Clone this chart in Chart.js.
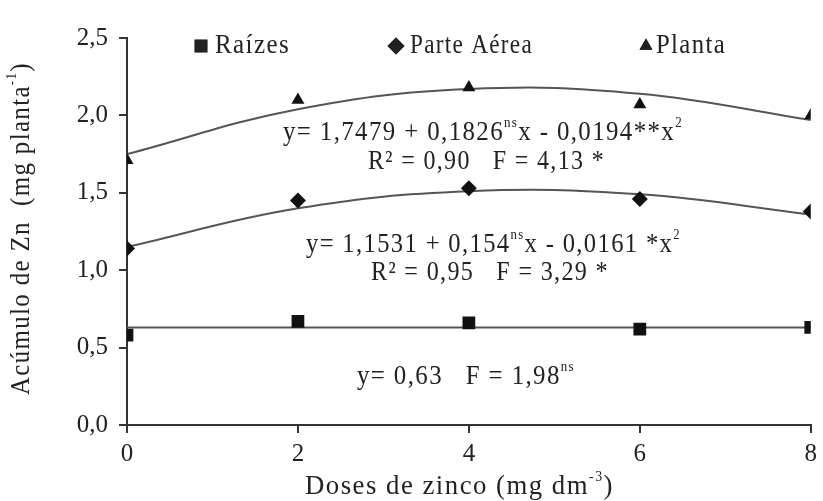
<!DOCTYPE html>
<html>
<head>
<meta charset="utf-8">
<script src="https://cdn.jsdelivr.net/npm/chart.js@4.4.1/dist/chart.umd.min.js"></script>
<style>
  html, body { margin: 0; padding: 0; background: #fff; }
  #wrap { width: 823px; height: 501px; }
</style>
</head>
<body>
<div id="wrap"><canvas id="grafico"></canvas></div>
<script>
// doses de zinco (mg dm-3)
const doses = [0, 2, 4, 6, 8];

const raizes = [0.58, 0.67, 0.66, 0.62, 0.63];
const parteAerea = [1.14, 1.45, 1.53, 1.46, 1.38];
const planta = [1.71, 2.10, 2.18, 2.07, 2.00];

// curvas ajustadas nas doses
const ajusteRaizes = [0.63, 0.63, 0.63, 0.63, 0.63];
const ajusteParte = [1.15, 1.40, 1.51, 1.49, 1.36];
const ajustePlanta = [1.75, 2.04, 2.17, 2.14, 1.97];

const yTicks = [0, 0.5, 1.0, 1.5, 2.0, 2.5];

const fonte = '"Liberation Serif", "Times New Roman", serif';
const corTexto = '#222';

const pts = (ys) => doses.map((d, i) => ({ x: d, y: ys[i] }));

// texto com partes sobrescritas [[texto, sobrescrito?], ...], ajustado entre x0 e x1
function textoAjustado(ctx, partes, x0, x1, cy, tam) {
    const fnt = (sup) => (sup ? Math.round(tam * 0.5) : tam) + 'px ' + fonte;
    ctx.save();
    ctx.letterSpacing = '1.5px';
    let largura = 0;
    partes.forEach(p => {
        ctx.font = fnt(p[1]);
        largura += ctx.measureText(p[0]).width;
    });
    ctx.translate(x0, cy);
    ctx.scale((x1 - x0) / largura, 1);
    let x = 0;
    partes.forEach(p => {
        ctx.font = fnt(p[1]);
        ctx.fillText(p[0], x, p[1] ? -tam * 0.35 : 0);
        x += ctx.measureText(p[0]).width;
    });
    ctx.restore();
}

const anotacoes = {
    id: 'anotacoes',
    afterDraw(chart) {
        const ctx = chart.ctx;
        ctx.save();
        ctx.fillStyle = corTexto;
        ctx.textBaseline = 'middle';
        ctx.textAlign = 'left';
        const t = 27;

        // legenda
        const leg = [
            { mx: 201, x0: 215, x1: 290, nome: 'Raízes', forma: 'rect', r: 9 },
            { mx: 396, x0: 410, x1: 533, nome: 'Parte Aérea', forma: 'rectRot', r: 8.5 },
            { mx: 646, x0: 656, x1: 726, nome: 'Planta', forma: 'triangle', r: 7.5 }
        ];
        leg.forEach(l => {
            ctx.beginPath();
            Chart.helpers.drawPoint(ctx, { pointStyle: l.forma, radius: l.r, rotation: 0, borderWidth: 0 }, l.mx, 46);
            ctx.fill();
            textoAjustado(ctx, [[l.nome, false]], l.x0, l.x1, 46, t);
        });

        // equações
        textoAjustado(ctx, [['y= 1,7479 + 0,1826', false], ['ns', true], ['x - 0,0194**x', false], ['2', true]], 283, 683, 133, t);
        textoAjustado(ctx, [['R² = 0,90   F = 4,13 *', false]], 368, 605, 162, t);
        textoAjustado(ctx, [['y= 1,1531 + 0,154', false], ['ns', true], ['x - 0,0161 *x', false], ['2', true]], 306, 681, 245, t);
        textoAjustado(ctx, [['R² = 0,95   F = 3,29 *', false]], 371, 609, 273, t);
        textoAjustado(ctx, [['y= 0,63   F = 1,98', false], ['ns', true]], 357, 575, 377, t);

        // títulos dos eixos
        textoAjustado(ctx, [['Doses de zinco (mg dm', false], ['-3', true], [')', false]], 305, 614, 487, t);
        ctx.translate(22, 0);
        ctx.rotate(-Math.PI / 2);
        textoAjustado(ctx, [['Acúmulo de Zn  (mg planta', false], ['-1', true], [')', false]], -395, -62, 0, t);
        ctx.restore();
    }
};

const linhaAjuste = (ys) => ({
    type: 'line',
    data: pts(ys),
    borderColor: '#555',
    borderWidth: 2,
    pointRadius: 0,
    tension: 0.4,
    fill: false,
    order: 2
});

const marcadores = (ys, forma, raio) => ({
    type: 'scatter',
    data: pts(ys),
    pointStyle: forma,
    pointRadius: raio,
    pointBackgroundColor: '#111',
    pointBorderColor: '#111',
    pointBorderWidth: 0,
    showLine: false,
    order: 1
});

new Chart(document.getElementById('grafico'), {
    data: {
        datasets: [
            linhaAjuste(ajusteRaizes),
            linhaAjuste(ajusteParte),
            linhaAjuste(ajustePlanta),
            Object.assign(marcadores(raizes, 'rect', 9), { label: 'Raízes' }),
            Object.assign(marcadores(parteAerea, 'rectRot', 8), { label: 'Parte Aérea' }),
            Object.assign(marcadores(planta, 'triangle', 7.5), { label: 'Planta' })
        ]
    },
    options: {
        responsive: true,
        maintainAspectRatio: false,
        animation: false,
        layout: { padding: { top: 38, right: 9, left: 0, bottom: 0 } },
        plugins: {
            legend: { display: false },
            tooltip: { enabled: false }
        },
        scales: {
            x: {
                type: 'linear',
                min: 0,
                max: 8,
                afterBuildTicks: (s) => { s.ticks = doses.map(v => ({ value: v })); },
                afterFit: (s) => { s.height = 76; },
                grid: { drawOnChartArea: false, drawTicks: true, tickLength: 8, color: '#333', lineWidth: 2 },
                border: { display: true, color: '#333', width: 2 },
                ticks: { color: corTexto, font: { family: fonte, size: 25 }, padding: 6 }
            },
            y: {
                min: 0,
                max: 2.5,
                afterBuildTicks: (s) => { s.ticks = yTicks.map(v => ({ value: v })); },
                afterFit: (s) => { s.width = 127; },
                grid: { drawOnChartArea: false, drawTicks: true, tickLength: 8, color: '#333', lineWidth: 2 },
                border: { display: true, color: '#333', width: 2 },
                ticks: {
                    color: corTexto,
                    font: { family: fonte, size: 25 },
                    padding: 11,
                    callback: (v) => v.toFixed(1).replace('.', ',')
                }
            }
        }
    },
    plugins: [anotacoes]
});
</script>
</body>
</html>
